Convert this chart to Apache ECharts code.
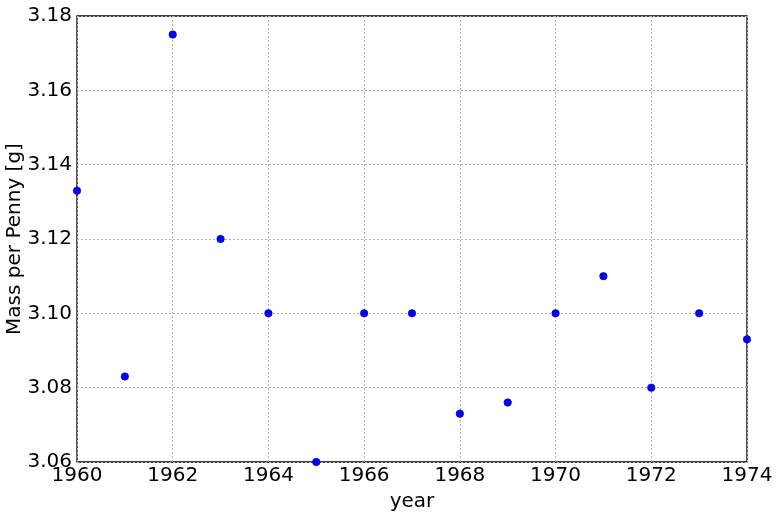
<!DOCTYPE html>
<html><head><meta charset="utf-8">
<script src="https://cdn.jsdelivr.net/npm/echarts@6/dist/echarts.min.js"></script>
<style>html,body{margin:0;padding:0;background:#fff}#c{width:777px;height:517px}</style>
</head><body><div id="c"></div>
<script>
var years = [1960,1961,1962,1963,1964,1965,1966,1967,1968,1969,1970,1971,1972,1973,1974];
var mass = [3.133,3.083,3.175,3.120,3.100,3.060,3.100,3.100,3.073,3.076,3.100,3.110,3.080,3.100,3.093];
var chart = echarts.init(document.getElementById('c'));
var font = 'DejaVu Sans';
chart.setOption({
  animation:false,
  grid:{left:77,right:30,top:16,bottom:55,show:true,borderColor:'#000',borderWidth:1.3,containLabel:false,outerBoundsMode:'none'},
  xAxis:{type:'value',min:1960,max:1974,interval:2,name:'year',nameLocation:'middle',nameGap:30,nameMoveOverlap:false,
    nameTextStyle:{fontFamily:font,fontSize:20,color:'#000'},
    axisLine:{show:false},axisTick:{show:false},
    axisLabel:{fontFamily:font,fontSize:20,color:'#000',margin:4,formatter:function(v){return String(v);}},
    splitLine:{show:true,lineStyle:{color:'#b0b0b0',type:[2,2],width:1}}},
  yAxis:{type:'value',min:3.06,max:3.18,interval:0.02,name:'Mass per Penny [g]',nameLocation:'middle',nameGap:52,nameMoveOverlap:false,
    nameTextStyle:{fontFamily:font,fontSize:20,color:'#000'},
    axisLine:{show:false},axisTick:{show:false},
    axisLabel:{fontFamily:font,fontSize:20,color:'#000',margin:5,formatter:function(v){return v.toFixed(2);}},
    splitLine:{show:true,lineStyle:{color:'#b0b0b0',type:[2,2],width:1}}},
  series:[{type:'scatter',data:years.map(function(y,i){return [y,mass[i]];}),symbolSize:7.5,
    clip:false,itemStyle:{color:'#0000ff',opacity:1,borderColor:'#00008b',borderWidth:0.6}}]
});
</script></body></html>
